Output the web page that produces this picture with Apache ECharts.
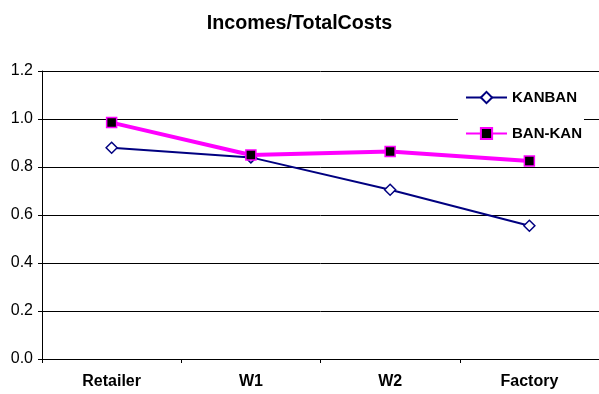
<!DOCTYPE html>
<html><head><meta charset="utf-8">
<script src="https://cdn.jsdelivr.net/npm/echarts@6/dist/echarts.min.js"></script>
<style>html,body{margin:0;padding:0;background:#fff}#c{width:599px;height:394px}</style>
</head><body><div id="c"></div>
<script>
const categories = ['Retailer', 'W1', 'W2', 'Factory'];
const kanban = [0.88, 0.84, 0.705, 0.555];
const bankan = [0.985, 0.85, 0.865, 0.825];
const yTicks = [0, 0.2, 0.4, 0.6, 0.8, 1.0, 1.2];

const chart = echarts.init(document.getElementById('c'));
chart.setOption({
  animation: false,
  backgroundColor: '#fff',
  title: {
    text: 'Incomes/TotalCosts', left: 'center', top: 9,
    textStyle: {fontFamily: 'Liberation Sans', fontSize: 19.7, fontWeight: 'bold', color: '#000'}
  },
  legend: {
    orient: 'vertical', left: 458, top: 85,
    backgroundColor: '#fff', padding: [5, 2, 5, 7],
    itemWidth: 41, itemHeight: 14, itemGap: 21,
    textStyle: {fontFamily: 'Liberation Sans', fontSize: 15, fontWeight: 'bold', color: '#000'},
    data: ['KANBAN', 'BAN-KAN']
  },
  grid: {left: 42, right: -3, top: 71, bottom: 35, containLabel: false},
  xAxis: {
    type: 'category', data: categories, boundaryGap: true,
    axisLine: {lineStyle: {color: '#000', width: 1}},
    axisTick: {show: true, length: 4, lineStyle: {color: '#000'}},
    axisLabel: {fontFamily: 'Liberation Sans', fontSize: 16, fontWeight: 'bold', color: '#000', margin: 15}
  },
  yAxis: {
    type: 'value', min: yTicks[0], max: yTicks[yTicks.length - 1], interval: 0.2,
    axisLine: {show: true, lineStyle: {color: '#000'}},
    axisTick: {show: true, length: 4, lineStyle: {color: '#000'}},
    splitLine: {lineStyle: {color: '#000', width: 1}},
    axisLabel: {fontFamily: 'Liberation Sans', fontSize: 16, color: '#000', margin: 9,
      formatter: v => v.toFixed(1)}
  },
  series: [
    {
      name: 'KANBAN', type: 'line', data: kanban,
      symbol: 'diamond', symbolSize: 11,
      lineStyle: {color: '#000080', width: 2},
      itemStyle: {color: '#fff', borderColor: '#000080', borderWidth: 1.5},
      z: 2
    },
    {
      name: 'BAN-KAN', type: 'line', data: bankan,
      symbol: 'rect', symbolSize: 10,
      lineStyle: {color: '#ff00ff', width: 4},
      itemStyle: {color: '#000', borderColor: '#ff00ff', borderWidth: 1.5},
      z: 3
    }
  ]
});
</script></body></html>
